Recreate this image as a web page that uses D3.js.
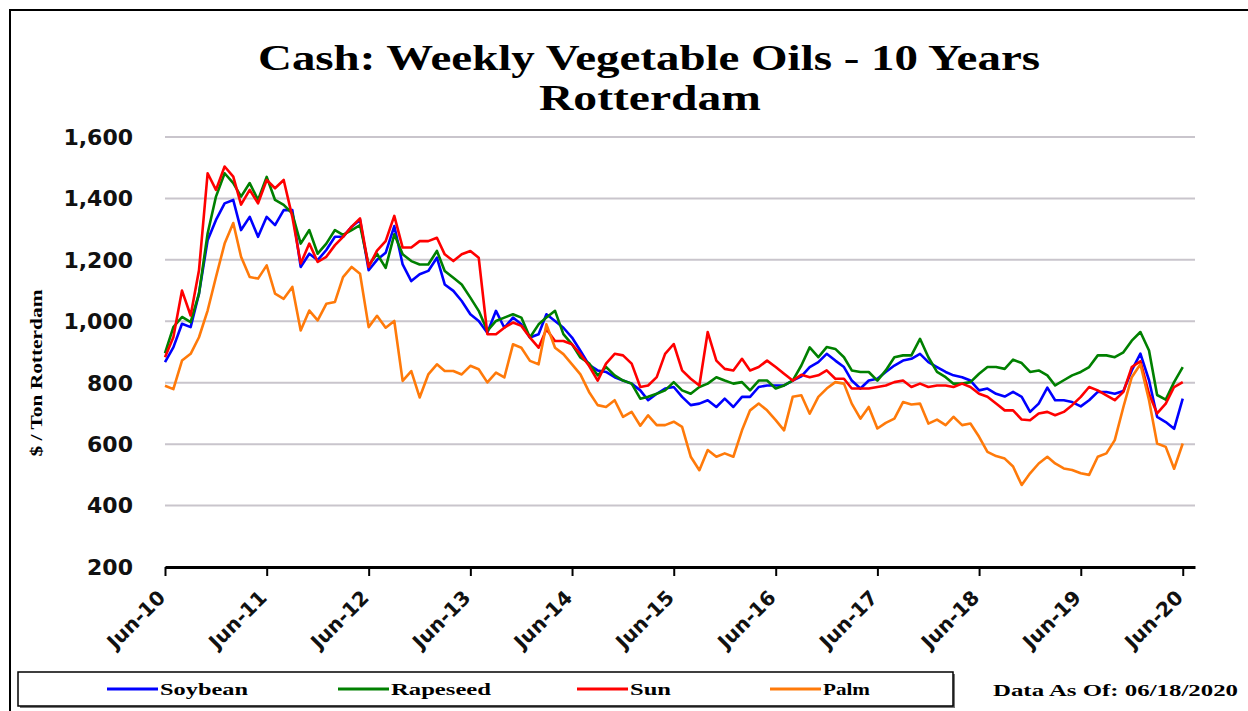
<!DOCTYPE html>
<html>
<head>
<meta charset="utf-8">
<script src="https://cdn.jsdelivr.net/npm/d3@7"></script>
<style>
  body { margin: 0; background: #fff; }
  svg { display: block; }
</style>
</head>
<body>
<svg width="1248" height="711"></svg>
<script>
// monthly readings, Jun 2010 .. Jun 2020, $ / ton Rotterdam
const startMonth = '2010-06-01';

const soybean = [867, 915, 992, 981, 1090, 1264, 1330, 1384, 1395, 1297, 1340, 1275, 1340, 1313, 1362, 1362,
  1177, 1220, 1199, 1232, 1275, 1275, 1308, 1330, 1166, 1200, 1223, 1310, 1185, 1131, 1153, 1164,
  1207, 1120, 1099, 1066, 1023, 1001, 963, 1034, 979, 1012, 990, 947, 958, 1023, 1001, 979,
  947, 904, 858, 840, 835, 818, 807, 797, 775, 743, 764, 781, 786, 754, 727, 732,
  743, 721, 748, 721, 754, 754, 786, 791, 791, 791, 807, 821, 851, 867, 894, 872,
  851, 807, 781, 807, 813, 835, 856, 872, 878, 894, 867, 851, 835, 824, 818, 807,
  775, 781, 764, 755, 770, 754, 705, 732, 784, 743, 743, 737, 723, 743, 770, 770,
  764, 773, 840, 895, 808, 689, 672, 650, 748];

const rapeseed = [896, 981, 1014, 997, 1090, 1286, 1406, 1482, 1450, 1406, 1450, 1395, 1470, 1395, 1379, 1351,
  1253, 1297, 1220, 1253, 1297, 1281, 1297, 1313, 1182, 1220, 1174, 1283, 1218, 1196, 1185, 1185,
  1229, 1164, 1142, 1120, 1077, 1034, 969, 1001, 1012, 1023, 1012, 947, 990, 1012, 1034, 958,
  925, 882, 863, 824, 851, 824, 807, 797, 748, 754, 764, 775, 802, 775, 764, 786,
  797, 818, 807, 797, 802, 775, 807, 807, 781, 791, 807, 856, 915, 883, 916, 910,
  883, 840, 835, 835, 807, 840, 883, 889, 889, 943, 883, 835, 818, 797, 797, 802,
  829, 851, 851, 845, 875, 864, 835, 840, 824, 791, 808, 824, 835, 851, 889, 889,
  883, 899, 937, 965, 905, 760, 745, 802, 851];

const sun = [883, 948, 1100, 1019, 1166, 1482, 1428, 1504, 1471, 1380, 1428, 1384, 1460, 1433, 1460, 1340,
  1188, 1253, 1193, 1210, 1248, 1275, 1308, 1335, 1177, 1230, 1261, 1343, 1240, 1240, 1261, 1261,
  1272, 1218, 1196, 1218, 1229, 1207, 958, 958, 979, 996, 985, 947, 914, 974, 936, 936,
  925, 893, 855, 807, 862, 894, 889, 862, 786, 791, 818, 894, 926, 840, 813, 791,
  965, 872, 845, 840, 878, 840, 851, 872, 851, 829, 807, 826, 818, 824, 840, 813,
  813, 781, 781, 781, 786, 791, 802, 807, 786, 797, 786, 791, 791, 786, 797, 786,
  764, 754, 732, 710, 710, 680, 678, 700, 705, 694, 705, 727, 754, 786, 775, 759,
  743, 770, 851, 870, 764, 700, 732, 786, 802];

const palm = [790, 779, 872, 894, 948, 1035, 1144, 1253, 1320, 1210, 1144, 1139, 1182, 1090, 1073, 1112,
  970, 1035, 1003, 1057, 1063, 1144, 1177, 1155, 981, 1018, 979, 1001, 806, 838, 752, 827,
  860, 838, 838, 827, 855, 844, 801, 833, 817, 925, 914, 871, 860, 990, 914, 893,
  860, 827, 770, 727, 721, 743, 689, 705, 660, 694, 662, 662, 673, 656, 559, 515,
  581, 559, 570, 559, 645, 710, 732, 710, 678, 645, 754, 759, 699, 754, 781, 802,
  797, 732, 683, 721, 651, 669, 683, 737, 729, 732, 667, 680, 662, 689, 662, 667,
  624, 575, 561, 553, 527, 467, 505, 537, 559, 537, 521, 516, 505, 500, 559, 570,
  613, 721, 818, 860, 743, 602, 591, 520, 602];

const seriesNames = ['Soybean', 'Rapeseed', 'Sun', 'Palm'];
const seriesColors = ['#0000ff', '#008000', '#ff0000', '#ff7a0a'];
const seriesValues = [soybean, rapeseed, sun, palm];

const yTicks = [200, 400, 600, 800, 1000, 1200, 1400, 1600];
const xTickYears = [2010, 2011, 2012, 2013, 2014, 2015, 2016, 2017, 2018, 2019, 2020];

const svg = d3.select('svg');
const parse = d3.timeParse('%Y-%m-%d');
const t0 = parse(startMonth);
const dates = soybean.map((v, i) => d3.timeMonth.offset(t0, i));

const x = d3.scaleTime()
  .domain([t0, parse('2020-07-15')])
  .range([165, 1195]);
const y = d3.scaleLinear()
  .domain([200, 1600])
  .range([567, 137]);

svg.append('rect')
  .attr('x', 10).attr('y', 10)
  .attr('width', 1250).attr('height', 720)
  .attr('fill', '#fff')
  .attr('stroke', '#000')
  .attr('stroke-width', 2);

// title
svg.append('text')
  .attr('x', 649).attr('y', 70)
  .attr('text-anchor', 'middle')
  .attr('font-family', 'Liberation Serif')
  .attr('font-weight', 'bold')
  .attr('font-size', 36)
  .attr('textLength', 782)
  .attr('lengthAdjust', 'spacingAndGlyphs')
  .text('Cash: Weekly Vegetable Oils - 10 Years');
svg.append('text')
  .attr('x', 650).attr('y', 110)
  .attr('text-anchor', 'middle')
  .attr('font-family', 'Liberation Serif')
  .attr('font-weight', 'bold')
  .attr('font-size', 36)
  .attr('textLength', 222)
  .attr('lengthAdjust', 'spacingAndGlyphs')
  .text('Rotterdam');

// gridlines
svg.append('g')
  .selectAll('line')
  .data(yTicks.filter(d => d > 200))
  .join('line')
  .attr('x1', 165).attr('x2', 1195)
  .attr('y1', d => y(d)).attr('y2', d => y(d))
  .attr('stroke', '#c9c5cc')
  .attr('stroke-width', 2);

// y labels
svg.append('g')
  .selectAll('text')
  .data(yTicks)
  .join('text')
  .attr('x', 133)
  .attr('y', d => y(d))
  .attr('dy', '0.36em')
  .attr('text-anchor', 'end')
  .attr('font-family', 'DejaVu Sans')
  .attr('font-weight', 'bold')
  .attr('font-size', 22)
  .attr('fill', '#111')
  .text(d => d3.format(',')(d));

svg.append('text')
  .attr('transform', 'translate(42,373) rotate(-90)')
  .attr('text-anchor', 'middle')
  .attr('font-family', 'Liberation Serif')
  .attr('font-weight', 'bold')
  .attr('font-size', 17)
  .attr('textLength', 167)
  .attr('lengthAdjust', 'spacingAndGlyphs')
  .text('$ / Ton Rotterdam');

// x axis
const xTickDates = xTickYears.map(yr => new Date(yr, 5, 1));
const xAxis = d3.axisBottom(x)
  .tickValues(xTickDates)
  .tickSize(9)
  .tickSizeOuter(0)
  .tickFormat(d3.timeFormat('Jun-%y'));
const gx = svg.append('g')
  .attr('transform', 'translate(0,' + y(200) + ')')
  .call(xAxis);
gx.select('.domain').attr('stroke', '#000').attr('stroke-width', 3);
gx.selectAll('.tick line').attr('stroke', '#000').attr('stroke-width', 2);
gx.selectAll('.tick text')
  .attr('font-family', 'DejaVu Sans')
  .attr('font-weight', 'bold')
  .attr('font-size', 20)
  .attr('fill', '#111')
  .attr('text-anchor', 'end')
  .attr('transform', 'translate(1,32) rotate(-45)')
  .attr('x', 0).attr('y', 0).attr('dy', 0);

// series
const line = d3.line()
  .x((d, i) => x(dates[i]))
  .y(d => y(d));

svg.append('g')
  .selectAll('path')
  .data(seriesValues)
  .join('path')
  .attr('d', d => line(d))
  .attr('fill', 'none')
  .attr('stroke', (d, i) => seriesColors[i])
  .attr('stroke-width', 2.6)
  .attr('stroke-linejoin', 'round');

// legend
svg.append('rect')
  .attr('x', 20).attr('y', 674)
  .attr('width', 935).attr('height', 34)
  .attr('fill', '#777');
svg.append('rect')
  .attr('x', 18).attr('y', 672)
  .attr('width', 935).attr('height', 34)
  .attr('fill', '#fff')
  .attr('stroke', '#000')
  .attr('stroke-width', 1.5);

const legendX = [107, 338, 577, 770];
const legendLen = [88, 100, 41, 47];
const lg = svg.append('g')
  .selectAll('g')
  .data(seriesNames)
  .join('g')
  .attr('transform', (d, i) => 'translate(' + legendX[i] + ',689)');
lg.append('line')
  .attr('x1', 0).attr('x2', 51)
  .attr('stroke', (d, i) => seriesColors[i])
  .attr('stroke-width', 3);
lg.append('text')
  .attr('x', 53)
  .attr('dy', '0.35em')
  .attr('font-family', 'Liberation Serif')
  .attr('font-weight', 'bold')
  .attr('font-size', 17)
  .attr('textLength', (d, i) => legendLen[i])
  .attr('lengthAdjust', 'spacingAndGlyphs')
  .text(d => d);

svg.append('text')
  .attr('x', 993).attr('y', 696)
  .attr('font-family', 'Liberation Serif')
  .attr('font-weight', 'bold')
  .attr('font-size', 17)
  .attr('textLength', 245)
  .attr('lengthAdjust', 'spacingAndGlyphs')
  .text('Data As Of: 06/18/2020');
</script>
</body>
</html>
